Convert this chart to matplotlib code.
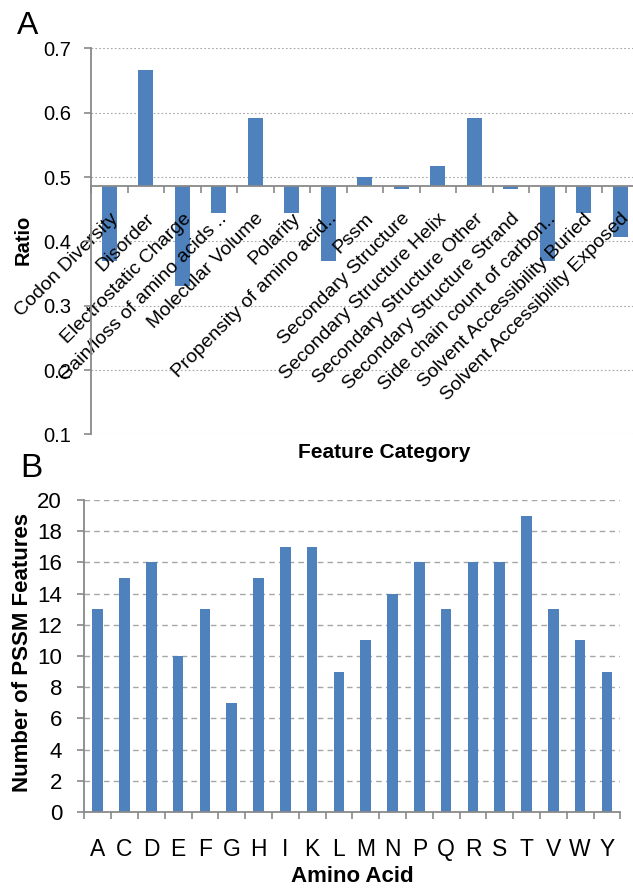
import numpy as np
import matplotlib
matplotlib.use('Agg')
import matplotlib.pyplot as plt
from matplotlib.ticker import FixedLocator

plt.rcParams['font.family'] = ['Liberation Sans', 'DejaVu Sans']

# panel A data
features = ['Codon Diversity', 'Disorder', 'Electrostatic Charge',
            'Gain/loss of amino acids ..', 'Molecular Volume', 'Polarity',
            'Propensity of amino acid..', 'Pssm', 'Secondary Structure',
            'Secondary Structure Helix', 'Secondary Structure Other',
            'Secondary Structure Strand', 'Side chain count of carbon..',
            'Solvent Accessibility Buried', 'Solvent Accessibility Exposed']
ratio = [0.370, 0.666, 0.331, 0.444, 0.592, 0.444, 0.370, 0.500, 0.481,
         0.518, 0.592, 0.481, 0.370, 0.444, 0.407]
ratio_base = 0.4855
ratio_ticks = [0.1, 0.2, 0.3, 0.4, 0.5, 0.6, 0.7]

# panel B data
amino = ['A', 'C', 'D', 'E', 'F', 'G', 'H', 'I', 'K', 'L',
         'M', 'N', 'P', 'Q', 'R', 'S', 'T', 'V', 'W', 'Y']
pssm_count = [13, 15, 16, 10, 13, 7, 15, 17, 17, 9,
              11, 14, 16, 13, 16, 16, 19, 13, 11, 9]
count_ticks = list(range(0, 21, 2))

blue = '#4F81BD'
grey = '#898989'
W, H = 633, 891

fig = plt.figure(figsize=(W / 100, H / 100), dpi=100)

# ---- A ----
ax = fig.add_axes([91 / W, 1 - 434.5 / H, 547.5 / W, 386 / H])
x = np.arange(len(features))
for t in ratio_ticks:
    ax.axhline(t, linestyle=(0, (1.5, 2)), color='#A6A6A6', linewidth=0.8, zorder=0)
ax.bar(x, np.array(ratio) - ratio_base, bottom=ratio_base, width=0.4,
       color=blue, zorder=1)
ax.set_xlim(-0.5, len(features) - 0.5)
ax.set_ylim(0.1, 0.7)
ax.set_yticks(ratio_ticks)
ax.set_yticklabels(['%.1f' % t for t in ratio_ticks], fontsize=14.5)
for s in ['top', 'right']:
    ax.spines[s].set_visible(False)
ax.spines['left'].set_color(grey)
ax.spines['left'].set_linewidth(1.3)
ax.spines['bottom'].set_position(('data', ratio_base))
ax.spines['bottom'].set_color(grey)
ax.spines['bottom'].set_linewidth(1.3)
ax.set_xticks(x)
ax.set_xticklabels(features, rotation=45, ha='right', va='top',
                   rotation_mode='anchor', fontsize=14)
ax.xaxis.set_minor_locator(FixedLocator(np.arange(-0.5, len(features), 1)))
ax.tick_params(axis='x', which='major', length=0, pad=17)
ax.tick_params(axis='x', which='minor', length=5, color=grey, width=1.2)
ax.tick_params(axis='y', length=5, color=grey, width=1.2, pad=9)
fig.text(23 / W, 1 - 240 / H, 'Ratio', rotation=90, ha='center', va='center',
         fontsize=14.5, fontweight='bold')
fig.text(384 / W, 1 - 452 / H, 'Feature Category', ha='center', va='center',
         fontsize=15, fontweight='bold')
fig.text(28 / W, 1 - 26 / H, 'A', ha='center', va='center', fontsize=23)

# ---- B ----
bx = fig.add_axes([84.3 / W, 1 - 812 / H, 536 / W, 312 / H])
xb = np.arange(len(amino))
for t in count_ticks[1:]:
    bx.axhline(t, linestyle=(0, (4, 3)), color='#A6A6A6', linewidth=1.0, zorder=0)
bx.bar(xb, pssm_count, width=0.4, color=blue, zorder=1)
bx.set_xlim(-0.5, len(amino) - 0.5)
bx.set_ylim(0, 20)
bx.set_yticks(count_ticks)
bx.set_yticklabels([str(t) for t in count_ticks], fontsize=16)
for s in ['top', 'right']:
    bx.spines[s].set_visible(False)
for s in ['left', 'bottom']:
    bx.spines[s].set_color(grey)
    bx.spines[s].set_linewidth(1.3)
bx.set_xticks(xb)
bx.set_xticklabels(amino, fontsize=16.5)
bx.xaxis.set_minor_locator(FixedLocator(np.arange(-0.5, len(amino), 1)))
bx.tick_params(axis='x', which='major', length=0, pad=19)
bx.tick_params(axis='x', which='minor', length=5, color=grey, width=1.2)
bx.tick_params(axis='y', length=5, color=grey, width=1.2, pad=11)
fig.text(23 / W, 1 - 652 / H, 'Number of PSSM Features', rotation=90,
         ha='center', va='center', fontsize=16, fontweight='bold')
fig.text(352 / W, 1 - 877 / H, 'Amino Acid', ha='center', va='center',
         fontsize=16, fontweight='bold')
fig.text(31 / W, 1 - 468 / H, 'B', ha='center', va='center', fontsize=24)

fig.savefig('out.png', dpi=100)
